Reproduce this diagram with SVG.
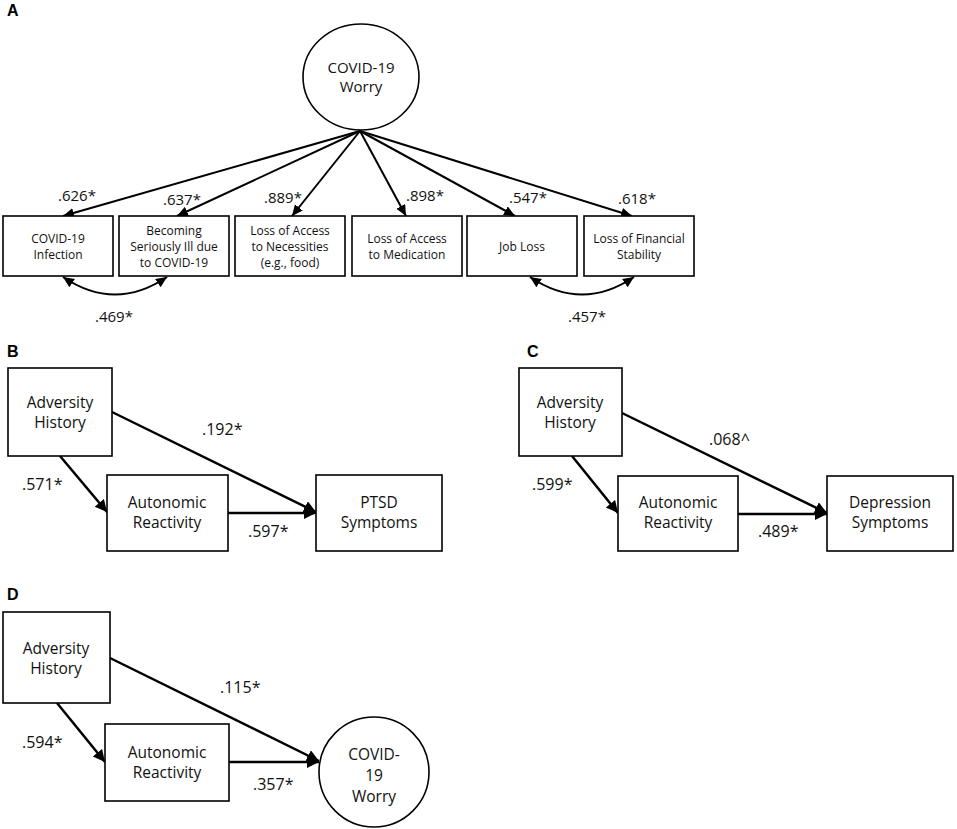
<svg xmlns="http://www.w3.org/2000/svg" width="957" height="829" viewBox="0 0 957 829">
<style>
.bg{fill:#fff}
.box{fill:#fff;stroke:#000;stroke-width:1.6}
.ell{fill:#fff;stroke:#000;stroke-width:1.6}
.t{font-family:"Open Sans","Liberation Sans",sans-serif;fill:#111;text-anchor:middle}
.tA{font-size:12px}
.tN{font-size:15.5px}
.tE{font-size:15px}
.lbA{font-family:"Open Sans","Liberation Sans",sans-serif;font-size:15px;fill:#111}
.lb{font-family:"Open Sans","Liberation Sans",sans-serif;font-size:16px;fill:#111}
.pl{font-family:"Liberation Sans",Arial,sans-serif;font-weight:bold;font-size:16px;fill:#000}
.ca{stroke:#000;stroke-width:2;fill:none;marker-end:url(#ahA)}
.cb{stroke:#000;stroke-width:2.5;fill:none;marker-end:url(#ahB)}
.cc{stroke:#000;stroke-width:2;fill:none;marker-start:url(#ahS);marker-end:url(#ahA)}
</style>
<defs>
<marker id="ahA" markerUnits="userSpaceOnUse" markerWidth="12" markerHeight="12" refX="11" refY="5" orient="auto"><path d="M0,0 L11,5 L0,10 z" fill="#000"/></marker>
<marker id="ahS" markerUnits="userSpaceOnUse" markerWidth="12" markerHeight="12" refX="11" refY="5" orient="auto-start-reverse"><path d="M0,0 L11,5 L0,10 z" fill="#000"/></marker>
<marker id="ahB" markerUnits="userSpaceOnUse" markerWidth="14" markerHeight="14" refX="12" refY="6" orient="auto"><path d="M0,0 L12,6 L0,12 z" fill="#000"/></marker>
</defs>
<rect class="bg" x="0" y="0" width="957" height="829"/>

<text class="pl" x="7" y="16">A</text>
<text class="pl" x="7" y="357">B</text>
<text class="pl" x="527" y="357">C</text>
<text class="pl" x="7" y="600">D</text>

<g id="connectors">
  <!-- Panel A -->
  <line class="ca" x1="360" y1="131" x2="63" y2="216"/>
  <line class="ca" x1="360" y1="131" x2="177" y2="216"/>
  <line class="ca" x1="360" y1="131" x2="292" y2="216"/>
  <line class="ca" x1="360" y1="131" x2="406" y2="216"/>
  <line class="ca" x1="360" y1="131" x2="515" y2="216"/>
  <line class="ca" x1="360" y1="131" x2="632" y2="216"/>
  <path class="cc" d="M63,277 Q115,312 167,277"/>
  <path class="cc" d="M530,277 Q582,312 634,277"/>
  <!-- Panel B -->
  <line class="cb" x1="60" y1="456" x2="107" y2="512"/>
  <line class="cb" x1="112" y1="412" x2="316" y2="512"/>
  <line class="cb" x1="228" y1="513" x2="316" y2="513"/>
  <!-- Panel C -->
  <line class="cb" x1="572" y1="456" x2="618" y2="513"/>
  <line class="cb" x1="622" y1="413" x2="827" y2="513"/>
  <line class="cb" x1="738" y1="514" x2="827" y2="514"/>
  <!-- Panel D -->
  <line class="cb" x1="57" y1="703" x2="105" y2="762"/>
  <line class="cb" x1="110" y1="658" x2="319" y2="761"/>
  <line class="cb" x1="229" y1="762" x2="319" y2="762"/>
</g>

<g id="labels">
  <text class="lbA" x="58" y="201">.626*</text>
  <text class="lbA" x="163" y="205">.637*</text>
  <text class="lbA" x="264" y="203">.889*</text>
  <text class="lbA" x="406" y="201">.898*</text>
  <text class="lbA" x="509" y="203">.547*</text>
  <text class="lbA" x="618" y="204">.618*</text>
  <text class="lbA" x="95" y="322">.469*</text>
  <text class="lbA" x="568" y="322">.457*</text>
  <text class="lb" x="202" y="435">.192*</text>
  <text class="lb" x="22" y="490">.571*</text>
  <text class="lb" x="248" y="537">.597*</text>
  <text class="lb" x="709" y="445">.068^</text>
  <text class="lb" x="532" y="490">.599*</text>
  <text class="lb" x="758" y="537">.489*</text>
  <text class="lb" x="220" y="693">.115*</text>
  <text class="lb" x="22" y="748">.594*</text>
  <text class="lb" x="253" y="790">.357*</text>
</g>

<!-- Panel A nodes -->
<g id="A_worry">
  <ellipse class="ell" cx="361" cy="77" rx="58" ry="53"/>
  <text class="t tE" x="361" y="73">COVID-19</text>
  <text class="t tE" x="361" y="92">Worry</text>
</g>
<g id="A_infection">
  <rect class="box" x="3" y="216" width="110" height="60"/>
  <text class="t tA" x="58" y="243">COVID-19</text>
  <text class="t tA" x="58" y="259">Infection</text>
</g>
<g id="A_ill">
  <rect class="box" x="119" y="216" width="110" height="60"/>
  <text class="t tA" x="174" y="235">Becoming</text>
  <text class="t tA" x="174" y="251">Seriously Ill due</text>
  <text class="t tA" x="174" y="267">to COVID-19</text>
</g>
<g id="A_necessities">
  <rect class="box" x="235" y="216" width="110" height="60"/>
  <text class="t tA" x="290" y="235">Loss of Access</text>
  <text class="t tA" x="290" y="251">to Necessities</text>
  <text class="t tA" x="290" y="267">(e.g., food)</text>
</g>
<g id="A_medication">
  <rect class="box" x="352" y="216" width="110" height="60"/>
  <text class="t tA" x="407" y="243">Loss of Access</text>
  <text class="t tA" x="407" y="259">to Medication</text>
</g>
<g id="A_job">
  <rect class="box" x="467" y="216" width="110" height="60"/>
  <text class="t tA" x="522" y="251">Job Loss</text>
</g>
<g id="A_financial">
  <rect class="box" x="584" y="216" width="110" height="60"/>
  <text class="t tA" x="639" y="243">Loss of Financial</text>
  <text class="t tA" x="639" y="259">Stability</text>
</g>

<!-- Panel B nodes -->
<g id="B_adversity">
  <rect class="box" x="8" y="368" width="104" height="88"/>
  <text class="t tN" x="60" y="408">Adversity</text>
  <text class="t tN" x="60" y="428">History</text>
</g>
<g id="B_autonomic">
  <rect class="box" x="107" y="475" width="121" height="76"/>
  <text class="t tN" x="167" y="508">Autonomic</text>
  <text class="t tN" x="167" y="528">Reactivity</text>
</g>
<g id="B_ptsd">
  <rect class="box" x="316" y="475" width="126" height="76"/>
  <text class="t tN" x="379" y="508">PTSD</text>
  <text class="t tN" x="379" y="528">Symptoms</text>
</g>

<!-- Panel C nodes -->
<g id="C_adversity">
  <rect class="box" x="519" y="368" width="103" height="88"/>
  <text class="t tN" x="570" y="408">Adversity</text>
  <text class="t tN" x="570" y="428">History</text>
</g>
<g id="C_autonomic">
  <rect class="box" x="618" y="476" width="120" height="75"/>
  <text class="t tN" x="678" y="508">Autonomic</text>
  <text class="t tN" x="678" y="528">Reactivity</text>
</g>
<g id="C_depression">
  <rect class="box" x="827" y="476" width="126" height="75"/>
  <text class="t tN" x="890" y="508">Depression</text>
  <text class="t tN" x="890" y="528">Symptoms</text>
</g>

<!-- Panel D nodes -->
<g id="D_adversity">
  <rect class="box" x="3" y="612" width="107" height="91"/>
  <text class="t tN" x="56" y="654">Adversity</text>
  <text class="t tN" x="56" y="674">History</text>
</g>
<g id="D_autonomic">
  <rect class="box" x="105" y="724" width="124" height="77"/>
  <text class="t tN" x="167" y="758">Autonomic</text>
  <text class="t tN" x="167" y="778">Reactivity</text>
</g>
<g id="D_worry">
  <circle class="ell" cx="374" cy="772" r="55"/>
  <text class="t tN" x="374" y="760">COVID-</text>
  <text class="t tN" x="374" y="781">19</text>
  <text class="t tN" x="374" y="802">Worry</text>
</g>
</svg>
